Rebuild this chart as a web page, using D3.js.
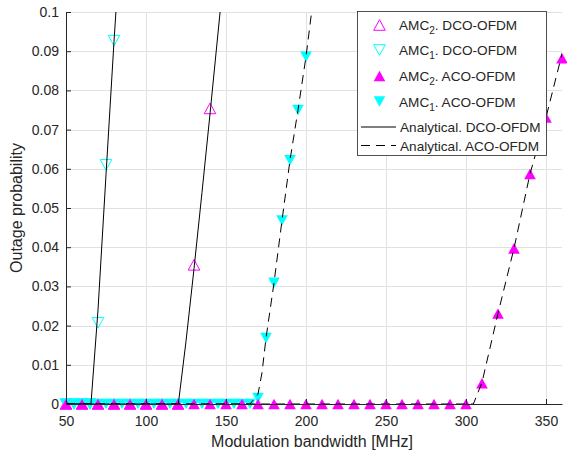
<!DOCTYPE html>
<html><head><meta charset="utf-8">
<script src="https://cdn.jsdelivr.net/npm/d3@7"></script>
<style>body{margin:0;background:#fff}svg{display:block}text{font-family:"Liberation Sans",Arial,Helvetica,sans-serif;fill:#262626}</style>
</head><body><svg id="c" width="567" height="455"></svg>
<script>
// ---- data ----
const xTicks = [50, 100, 150, 200, 250, 300, 350];
const yTicks = [0, 0.01, 0.02, 0.03, 0.04, 0.05, 0.06, 0.07, 0.08, 0.09, 0.1];
const yTickLabels = ["0","0.01","0.02","0.03","0.04","0.05","0.06","0.07","0.08","0.09","0.1"];

const amc2DcoX = [50, 60, 70, 80, 90, 100, 110, 120, 130, 140];
const amc2DcoY = [0, 0, 0, 0, 0, 0, 0, 0, 0.0355, 0.0754];
const amc1DcoX = [50, 55, 60, 65, 70, 75, 80];
const amc1DcoY = [0, 0, 0, 0, 0.0207, 0.061, 0.0927];
const amc2AcoX = [50,60,70,80,90,100,110,120,130,140,150,160,170,180,190,200,210,220,230,240,250,260,270,280,290,300,310,320,330,340,350,360];
const amc2AcoY = [0,0,0,0,0,0,0,0,0,0,0,0,0,0,0,0,0,0,0,0,0,0,0,0,0,0,0.0053,0.0231,0.0397,0.0587,0.0731,0.0882];
const amc1AcoX = [50,55,60,65,70,75,80,85,90,95,100,105,110,115,120,125,130,135,140,145,150,155,160,165,170,175,180,185,190,195,200];
const amc1AcoY = [0,0,0,0,0,0,0,0,0,0,0,0,0,0,0,0,0,0,0,0,0,0,0,0,0.0015,0.0168,0.0309,0.0468,0.0622,0.075,0.0886];

const anaDco1X = [50, 65.6, 70, 75, 80, 81.2, 82];
const anaDco1Y = [0, 0, 0.024, 0.0585, 0.0925, 0.1, 0.105];
const anaDco2X = [50, 120.2, 125, 130, 135, 140, 146.3, 147];
const anaDco2Y = [0, 0, 0.016, 0.0345, 0.054, 0.074, 0.1, 0.103];
const anaAco1X = [50, 165, 170, 172.5, 175, 180, 185, 190, 195, 200, 203.5, 204.5];
const anaAco1Y = [0, 0, 0.0025, 0.008, 0.0168, 0.0309, 0.0468, 0.0622, 0.075, 0.0886, 0.1, 0.103];
const anaAco2X = [50, 304.6, 310, 320, 330, 340, 350, 360, 362];
const anaAco2Y = [0, 0, 0.0055, 0.0231, 0.0397, 0.0587, 0.0731, 0.0893, 0.092];

const legendLabels = [
  ["AMC","2",". DCO-OFDM"],
  ["AMC","1",". DCO-OFDM"],
  ["AMC","2",". ACO-OFDM"],
  ["AMC","1",". ACO-OFDM"],
  ["Analytical. DCO-OFDM"],
  ["Analytical. ACO-OFDM"]
];

// ---- layout ----
const L = 66, R = 562, T = 12, B = 404;
const svg = d3.select("#c");
const x = d3.scaleLinear().domain([50, 360]).range([L, R]);
const y = d3.scaleLinear().domain([0, 0.1]).range([B, T]);
const MAG = "#ff00ff", CYA = "#00ffff";

// grid
const g = svg.append("g");
g.selectAll(".vg").data(xTicks).join("line")
  .attr("x1", d => Math.round(x(d)) + 0.5).attr("x2", d => Math.round(x(d)) + 0.5)
  .attr("y1", T).attr("y2", B).attr("stroke", "#e1e1e1").attr("stroke-width", 1);
g.selectAll(".hg").data(yTicks).join("line")
  .attr("y1", d => Math.round(y(d)) + 0.5).attr("y2", d => Math.round(y(d)) + 0.5)
  .attr("x1", L).attr("x2", R).attr("stroke", "#e1e1e1").attr("stroke-width", 1);

// triangle symbols
const triUp = { draw(ctx, s) { const w = 5.8, h = 5.3; ctx.moveTo(0, -h); ctx.lineTo(w, h); ctx.lineTo(-w, h); ctx.closePath(); } };
const triDown = { draw(ctx, s) { const w = 5.8, h = 5.3; ctx.moveTo(0, h); ctx.lineTo(w, -h); ctx.lineTo(-w, -h); ctx.closePath(); } };
const upPath = d3.symbol().type(triUp)();
const downPath = d3.symbol().type(triDown)();

function markers(xs, ys, path, fill, stroke) {
  svg.append("g").selectAll("path").data(xs.map((d, i) => [d, ys[i]])).join("path")
    .attr("d", path)
    .attr("transform", d => `translate(${x(d[0])},${y(d[1])})`)
    .attr("fill", fill).attr("stroke", stroke).attr("stroke-width", 1);
}
markers(amc2DcoX, amc2DcoY, upPath, "none", MAG);
markers(amc1DcoX, amc1DcoY, downPath, "none", CYA);
markers(amc1AcoX, amc1AcoY, downPath, CYA, "none");
markers(amc2AcoX, amc2AcoY, upPath, MAG, "none");

// analytical lines (clipped)
svg.append("clipPath").attr("id", "clip").append("rect")
  .attr("x", L).attr("y", T).attr("width", R - L).attr("height", B - T + 2);
const line = d3.line().x(d => x(d[0])).y(d => y(d[1]));
const lg = svg.append("g").attr("clip-path", "url(#clip)");
function curve(xs, ys, dash) {
  lg.append("path").datum(xs.map((d, i) => [d, ys[i]]))
    .attr("d", line).attr("fill", "none").attr("stroke", "#000").attr("stroke-width", 1)
    .attr("stroke-dasharray", dash);
}
curve(anaDco1X, anaDco1Y, null);
curve(anaDco2X, anaDco2Y, null);
curve(anaAco1X, anaAco1Y, "9,6");
curve(anaAco2X, anaAco2Y, "9,6");

// axes
const ax = svg.append("g").attr("transform", `translate(0,${B})`)
  .call(d3.axisBottom(x).tickValues(xTicks).tickSizeInner(-5).tickSizeOuter(0).tickPadding(12));
const ay = svg.append("g").attr("transform", `translate(${L},0)`)
  .call(d3.axisLeft(y).tickValues(yTicks).tickFormat((d, i) => yTickLabels[i]).tickSizeInner(-5).tickSizeOuter(0).tickPadding(7));
[ax, ay].forEach(a => {
  a.select(".domain").attr("stroke", "#262626");
  a.selectAll(".tick line").attr("stroke", "#262626");
  a.selectAll("text").attr("font-size", 14).attr("font-family", null).style("fill", "#262626");
});

// axis labels
svg.append("text").attr("x", (L + R) / 2 - 2).attr("y", 447).attr("text-anchor", "middle")
  .attr("font-size", 16).text("Modulation bandwidth [MHz]");
svg.append("text").attr("transform", `translate(22,${(T + B) / 2}) rotate(-90)`).attr("text-anchor", "middle")
  .attr("font-size", 16).text("Outage probability");

// legend
const leg = svg.append("g");
leg.append("rect").attr("x", 357.5).attr("y", 11.5).attr("width", 189).attr("height", 144)
  .attr("fill", "#fff").attr("stroke", "#262626").attr("stroke-width", 0.8);
const rowY = [25, 50, 76, 101.5, 127, 145.5];
const legMark = [[upPath, "none", MAG], [downPath, "none", CYA], [upPath, MAG, "none"], [downPath, CYA, "none"]];
legMark.forEach((m, i) => {
  leg.append("path").attr("d", m[0]).attr("transform", `translate(379.5,${rowY[i]})`)
    .attr("fill", m[1]).attr("stroke", m[2]).attr("stroke-width", 1);
});
[null, "9,6"].forEach((dash, j) => {
  leg.append("line").attr("x1", 361).attr("x2", 396).attr("y1", rowY[4 + j]).attr("y2", rowY[4 + j])
    .attr("stroke", "#000").attr("stroke-width", 1).attr("stroke-dasharray", dash);
});
legendLabels.forEach((lab, i) => {
  const t = leg.append("text").attr("x", i < 4 ? 399 : 400).attr("y", rowY[i] + 5).attr("font-size", 13.6);
  if (lab.length === 3) {
    t.append("tspan").text(lab[0]);
    t.append("tspan").attr("font-size", 10).attr("dy", 4).text(lab[1]);
    t.append("tspan").attr("dy", -4).text(lab[2]);
  } else {
    t.text(lab[0]);
  }
});
</script></body></html>
